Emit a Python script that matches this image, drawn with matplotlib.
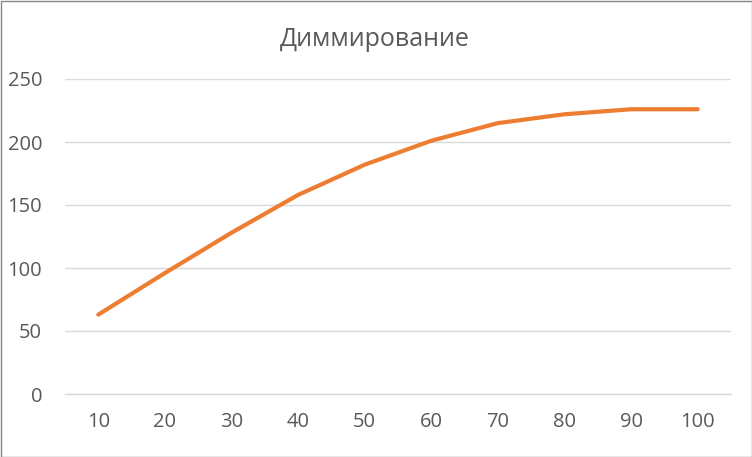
import matplotlib
matplotlib.use("Agg")
import matplotlib.pyplot as plt
from matplotlib.patches import Rectangle

categories = ["10", "20", "30", "40", "50", "60", "70", "80", "90", "100"]
values = [63, 96, 128, 158, 182, 201, 215, 222, 226, 226]
y_ticks = [0, 50, 100, 150, 200, 250]
title = "Диммирование"

plt.rcParams['font.family'] = ['Open Sans', 'DejaVu Sans']
text_color = "#595959"

fig = plt.figure(figsize=(7.52, 4.57), dpi=100)
ax = fig.add_axes([65/752, 1 - 394/457, 666/752, 315/457])

x = list(range(len(categories)))
ax.plot(x, values, color="#ED7D31", linewidth=3.0, solid_capstyle="round", solid_joinstyle="round", zorder=3)

ax.set_xlim(-0.5, len(categories) - 0.5)
ax.set_ylim(0, 250)
ax.set_yticks(y_ticks)
ax.set_xticks(x)
ax.set_xticklabels(categories)
ax.grid(axis="y", color="#D9D9D9", linewidth=1.0)
ax.set_axisbelow(True)
for s in ["top", "right", "left"]:
    ax.spines[s].set_visible(False)
ax.spines["bottom"].set_color("#D9D9D9")
ax.spines["bottom"].set_linewidth(1.0)
ax.tick_params(axis="both", length=0, labelsize=14.5, colors=text_color)
ax.tick_params(axis="x", pad=13)
ax.tick_params(axis="y", pad=16.5)

fig.text(375/752, 1 - 39/457, title, ha="center", va="center", fontsize=18, color=text_color)

fig.patches.append(Rectangle((0.5/752, 0.5/457), 751/752, 456/457, transform=fig.transFigure,
                             fill=False, edgecolor="#868686", linewidth=1.0))

fig.savefig("out.png", dpi=100, facecolor="white")
